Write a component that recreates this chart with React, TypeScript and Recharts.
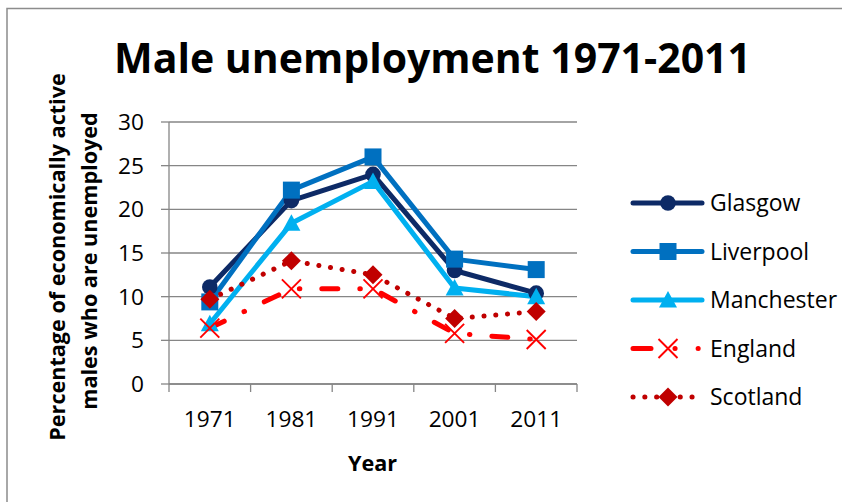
import React from 'react';
import { LineChart, Line, XAxis, YAxis, CartesianGrid, Legend } from 'recharts';

const years = ['1971', '1981', '1991', '2001', '2011'];
const glasgow = [11.1, 21.0, 24.0, 13.0, 10.4];
const liverpool = [9.4, 22.2, 26.0, 14.3, 13.1];
const manchester = [6.9, 18.4, 23.2, 11.0, 10.0];
const england = [6.4, 10.9, 10.9, 5.8, 5.1];
const scotland = [9.7, 14.1, 12.5, 7.5, 8.3];
const yTicks = [0, 5, 10, 15, 20, 25, 30];

const data = years.map((y, i) => ({
  year: y,
  Glasgow: glasgow[i],
  Liverpool: liverpool[i],
  Manchester: manchester[i],
  England: england[i],
  Scotland: scotland[i],
}));

const FONT = '"Open Sans", "Noto Sans", sans-serif';
const GRID = '#868686';
const HALF_BAND = 40.8;
const LINE_W = 5;

type Shape = 'circle' | 'square' | 'triangle' | 'x' | 'diamond';

const series: {
  name: string;
  color: string;
  shape: Shape;
  dash?: string;
  legendDash?: string;
}[] = [
  { name: 'Glasgow', color: '#0D2A66', shape: 'circle' },
  { name: 'Liverpool', color: '#0070C0', shape: 'square' },
  { name: 'Manchester', color: '#00B0F0', shape: 'triangle' },
  { name: 'England', color: '#FF0000', shape: 'x', dash: '16 22 0.5 22', legendDash: '18 24 0.1 23 0.1 100' },
  { name: 'Scotland', color: '#C00000', shape: 'diamond', dash: '0.1 11.7', legendDash: '0.1 11.7' },
];

function marker(shape: Shape, color: string, cx: number, cy: number, key?: any) {
  switch (shape) {
    case 'circle':
      return <circle key={key} cx={cx} cy={cy} r={7.8} fill={color} />;
    case 'square':
      return <rect key={key} x={cx - 8.5} y={cy - 8.5} width={17} height={17} fill={color} />;
    case 'triangle':
      return (
        <path
          key={key}
          d={`M${cx},${cy - 9} L${cx + 9},${cy + 7.5} L${cx - 9},${cy + 7.5} Z`}
          fill={color}
        />
      );
    case 'x':
      return (
        <path
          key={key}
          d={`M${cx - 9.5},${cy - 9.5} L${cx + 9.5},${cy + 9.5} M${cx + 9.5},${cy - 9.5} L${cx - 9.5},${cy + 9.5}`}
          stroke={color}
          strokeWidth={1.9}
          fill="none"
        />
      );
    case 'diamond':
    default:
      return (
        <path
          key={key}
          d={`M${cx},${cy - 9.5} L${cx + 9.5},${cy} L${cx},${cy + 9.5} L${cx - 9.5},${cy} Z`}
          fill={color}
        />
      );
  }
}

const makeDot = (shape: Shape, color: string) => (props: any) => {
  const { cx, cy, index } = props;
  if (cx == null || cy == null) return <g key={`e${index}`} />;
  return marker(shape, color, cx, cy, `d${index}`);
};

const XTick = (props: any) => {
  const { x, y, payload, index } = props;
  const half = payload && payload.offset ? payload.offset : HALF_BAND;
  const axisY = y - 8;
  return (
    <g>
      <line x1={x - half} x2={x - half} y1={axisY} y2={axisY + 8} stroke={GRID} strokeWidth={1.3} />
      {index === years.length - 1 && (
        <line x1={x + half} x2={x + half} y1={axisY} y2={axisY + 8} stroke={GRID} strokeWidth={1.3} />
      )}
      <text x={x} y={axisY + 43} textAnchor="middle" fontFamily={FONT} fontSize={22.7} fill="#000">
        {payload.value}
      </text>
    </g>
  );
};

const renderLegend = (props: any) => {
  const payload = [...(props.payload || [])].sort(
    (a: any, b: any) =>
      series.findIndex((s) => s.name === a.value) - series.findIndex((s) => s.name === b.value)
  );
  return (
    <svg width={217} height={250} style={{ display: 'block' }}>
      {payload.map((entry: any, i: number) => {
        const s = series.find((q) => q.name === entry.value) || series[i];
        const y = 33 + i * 48.5;
        return (
          <g key={s.name}>
            <line
              x1={10}
              x2={79}
              y1={y}
              y2={y}
              stroke={s.color}
              strokeWidth={LINE_W}
              strokeLinecap="round"
              strokeDasharray={s.legendDash}
            />
            {marker(s.shape, s.color, 45, y)}
            <text x={87} y={y} dy="0.36em" fontFamily={FONT} fontSize={23} fill="#000">
              {s.name}
            </text>
          </g>
        );
      })}
    </svg>
  );
};

export default function App() {
  return (
    <div style={{ position: 'absolute', left: 0, top: 0, width: 842, height: 502, background: '#fff' }}>
      <LineChart
        width={842}
        height={502}
        data={data}
        margin={{ top: 122, right: 265, bottom: 88, left: 109 }}
      >
        <CartesianGrid vertical={false} stroke={GRID} strokeWidth={1.3} />
        <XAxis
          dataKey="year"
          axisLine={{ stroke: GRID, strokeWidth: 1.3 }}
          tickLine={false}
          tickSize={8}
          tickMargin={0}
          height={30}
          padding={{ left: HALF_BAND, right: HALF_BAND }}
          tick={<XTick />}
          interval={0}
        />
        <YAxis
          domain={[0, 30]}
          ticks={yTicks}
          width={60}
          axisLine={{ stroke: GRID, strokeWidth: 1.3 }}
          tickLine={{ stroke: GRID, strokeWidth: 1.3 }}
          tickSize={8}
          tickMargin={17}
          tick={{ fill: '#000', fontSize: 22.7, fontFamily: FONT }}
          interval={0}
        />
        {series.map((s) => (
          <Line
            key={s.name}
            type="linear"
            dataKey={s.name}
            name={s.name}
            stroke={s.color}
            strokeWidth={LINE_W}
            strokeDasharray={s.dash}
            strokeLinecap="round"
            strokeLinejoin="round"
            dot={makeDot(s.shape, s.color)}
            activeDot={false}
            isAnimationActive={false}
          />
        ))}
        <Legend
          layout="vertical"
          align="center"
          verticalAlign="middle"
          content={renderLegend}
          wrapperStyle={{ left: 623, top: 170, width: 217, height: 250 }}
        />
      </LineChart>
      <svg
        width={842}
        height={502}
        style={{ position: 'absolute', left: 0, top: 0, pointerEvents: 'none' }}
      >
        <rect x={7} y={8.5} width={900} height={600} fill="none" stroke="#8C8C8C" strokeWidth={1.5} />
        <text x={432.5} y={73} textAnchor="middle" fontFamily={FONT} fontWeight={700} fontSize={41} fill="#000">
          Male unemployment 1971-2011
        </text>
        <text x={372.5} y={471} textAnchor="middle" fontFamily={FONT} fontWeight={700} fontSize={21.6} fill="#000">
          Year
        </text>
        <text
          transform="translate(64.5,257) rotate(-90)"
          textAnchor="middle"
          fontFamily={FONT}
          fontWeight={700}
          fontSize={21.6}
          fill="#000"
        >
          Percentage of economically active
        </text>
        <text
          transform="translate(96.5,261) rotate(-90)"
          textAnchor="middle"
          fontFamily={FONT}
          fontWeight={700}
          fontSize={21.6}
          fill="#000"
        >
          males who are unemployed
        </text>
      </svg>
    </div>
  );
}
